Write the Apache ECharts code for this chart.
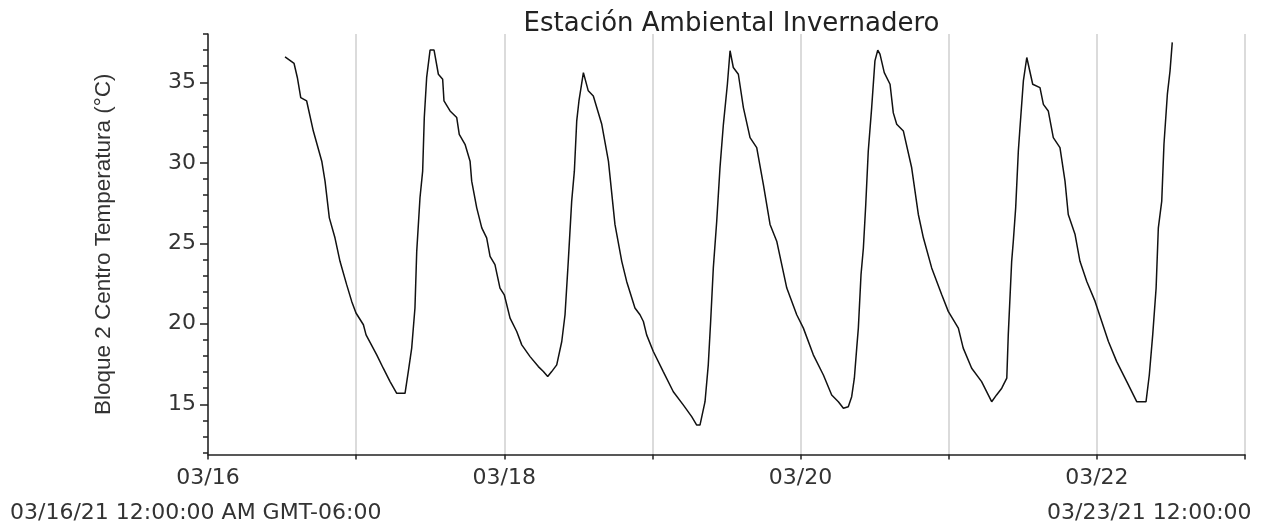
<!DOCTYPE html>
<html><head><meta charset="utf-8">
<script src="https://cdn.jsdelivr.net/npm/echarts@6/dist/echarts.min.js"></script>
<style>html,body{margin:0;padding:0;background:#fff}#c{width:1272px;height:523px}</style>
</head><body><div id="c"></div>
<script>
// Time in days since 03/16/21 00:00 (GMT-06:00)
const days = [0.520,0.581,0.603,0.626,0.666,0.711,0.768,0.790,0.819,0.857,0.891,0.936,0.970,0.999,1.049,1.067,1.139,1.183,1.229,1.274,1.330,1.352,1.375,1.397,1.409,1.431,1.449,1.460,1.476,1.499,1.526,1.555,1.584,1.593,1.634,1.679,1.696,1.735,1.769,1.780,1.814,1.848,1.881,1.904,1.937,1.971,2.000,2.039,2.084,2.118,2.174,2.230,2.264,2.293,2.320,2.354,2.388,2.410,2.432,2.455,2.473,2.489,2.504,2.534,2.567,2.601,2.658,2.703,2.747,2.793,2.826,2.882,2.916,2.939,2.961,3.006,3.073,3.141,3.208,3.265,3.299,3.321,3.355,3.377,3.393,3.411,3.434,3.456,3.479,3.506,3.524,3.546,3.580,3.614,3.659,3.704,3.749,3.794,3.839,3.907,3.974,4.019,4.086,4.154,4.210,4.255,4.289,4.322,4.345,4.363,4.379,4.390,4.408,4.424,4.440,4.457,4.480,4.502,4.521,4.536,4.565,4.604,4.626,4.649,4.694,4.750,4.795,4.829,4.885,4.953,4.997,5.065,5.098,5.155,5.222,5.290,5.323,5.358,5.392,5.402,5.425,5.436,5.452,5.470,5.481,5.504,5.527,5.567,5.616,5.639,5.672,5.706,5.751,5.785,5.807,5.853,5.886,5.932,5.988,6.033,6.078,6.134,6.202,6.269,6.332,6.354,6.377,6.400,6.415,6.438,6.453,6.476,6.494,6.509];
// Bloque 2 Centro Temperatura (°C)
const temps = [36.58,36.17,35.30,34.05,33.84,31.97,30.10,28.86,26.58,25.34,23.88,22.43,21.39,20.67,19.94,19.31,18.07,17.24,16.41,15.68,15.68,17.03,18.49,20.98,24.50,27.83,29.48,32.81,35.30,37.00,37.00,35.50,35.19,33.84,33.22,32.81,31.77,31.15,30.10,28.86,27.20,25.96,25.34,24.19,23.67,22.22,21.80,20.35,19.52,18.69,17.96,17.34,17.03,16.72,17.03,17.45,18.90,20.56,23.88,27.62,29.48,32.60,33.84,35.60,34.47,34.15,32.39,30.10,26.17,23.88,22.63,20.98,20.56,20.14,19.31,18.28,17.03,15.78,14.96,14.23,13.71,13.71,15.16,17.45,20.14,23.47,26.37,29.69,32.39,34.88,36.96,35.92,35.50,33.43,31.56,30.94,28.65,26.17,25.13,22.22,20.56,19.73,18.07,16.82,15.58,15.16,14.75,14.85,15.47,16.62,18.49,19.73,23.05,24.71,27.41,30.73,33.43,36.33,37.00,36.75,35.60,34.88,33.10,32.39,31.97,29.69,26.79,25.34,23.47,21.80,20.77,19.73,18.49,17.24,16.41,15.16,15.58,16.00,16.62,19.31,23.88,25.13,27.20,30.73,32.18,35.09,36.54,34.88,34.67,33.63,33.22,31.56,30.94,28.86,26.79,25.54,23.88,22.63,21.39,20.14,18.90,17.65,16.41,15.16,15.16,16.82,19.31,22.22,25.96,27.62,31.15,34.26,35.71,37.48];

const xLabelDays = [0, 2, 4, 6];
const xLabelTexts = ['03/16', '03/18', '03/20', '03/22'];
const yLabelValues = [15, 20, 25, 30, 35];
const yMinorTicks = [12,13,14,15,16,17,18,19,20,21,22,23,24,25,26,27,28,29,30,31,32,33,34,35,36,37,38];
const titleText = 'Estación Ambiental Invernadero';
const yName = 'Bloque 2 Centro Temperatura (°C)';
const startText = '03/16/21 12:00:00 AM GMT-06:00';
const endText = '03/23/21 12:00:00';

const HFONT = 'DejaVu Sans';
const chart = echarts.init(document.getElementById('c'), null, {renderer: 'canvas'});
const data = days.map((d, i) => [d, temps[i]]);

chart.setOption({
  animation: false,
  backgroundColor: '#fff',
  title: {
    text: titleText, left: 726.5, top: 6, textAlign: 'center',
    textStyle: {fontFamily: HFONT, fontSize: 26, fontWeight: 'normal', color: '#222'}
  },
  grid: {left: 208, right: 27, top: 34, bottom: 68.5, containLabel: false, outerBoundsMode: 'none'},
  xAxis: {
    type: 'value', min: 0, max: 7, interval: 1,
    axisLine: {show: true, lineStyle: {color: '#222', width: 1.5}},
    axisTick: {show: true, length: 5, lineStyle: {color: '#222', width: 1.5}},
    axisLabel: {
      margin: 13, fontFamily: HFONT, fontSize: 22, color: '#333',
      showMinLabel: true, showMaxLabel: true, hideOverlap: false,
      formatter: v => { const i = xLabelDays.indexOf(Math.round(v)); return i >= 0 ? xLabelTexts[i] : ''; }
    },
    splitLine: {show: true, lineStyle: {color: '#cfcfcf', width: 1.5}}
  },
  yAxis: [{
    type: 'value', min: 11.88, max: 38, position: 'left',
    name: yName, nameLocation: 'middle', nameGap: 93, nameRotate: 90,
    nameTextStyle: {fontFamily: 'Liberation Sans', fontSize: 22.5, color: '#333'},
    axisLine: {show: true, lineStyle: {color: '#222', width: 1.5}},
    axisTick: {show: true, length: 8, customValues: yLabelValues, lineStyle: {color: '#222', width: 1.5}},
    axisLabel: {customValues: yLabelValues, margin: 12, fontFamily: HFONT, fontSize: 22, color: '#333'},
    splitLine: {show: false}
  }, {
    type: 'value', min: 11.88, max: 38, position: 'left',
    axisLine: {show: false},
    axisTick: {show: true, length: 5, customValues: yMinorTicks, lineStyle: {color: '#222', width: 1.5}},
    axisLabel: {show: false},
    splitLine: {show: false}
  }],
  graphic: [
    {type: 'text', left: 10, top: 502, style: {text: startText, font: '22px "DejaVu Sans"', fill: '#333'}},
    {type: 'text', left: 1047, top: 502, style: {text: endText, font: '22px "DejaVu Sans"', fill: '#333'}}
  ],
  series: [{
    type: 'line', data: data, xAxisIndex: 0, yAxisIndex: 0,
    showSymbol: false, symbol: 'none', smooth: false,
    lineStyle: {color: '#111', width: 1.5}
  }]
});
</script>
</body></html>
